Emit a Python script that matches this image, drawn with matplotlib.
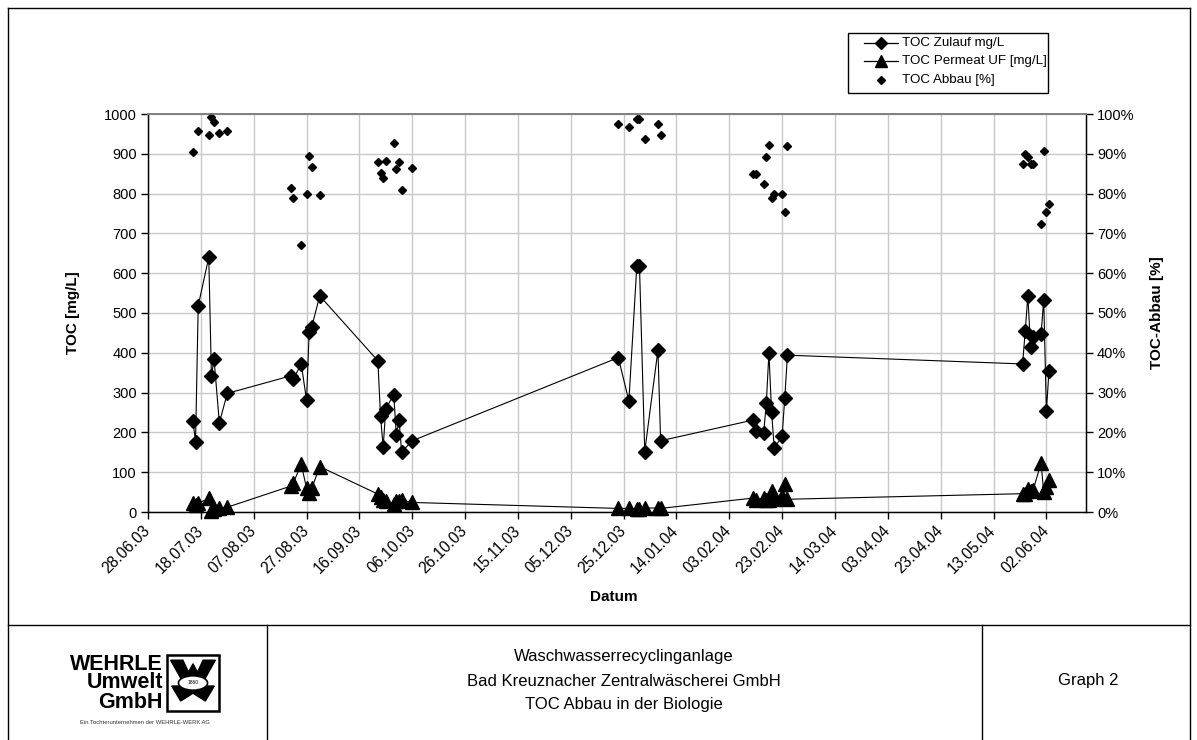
import matplotlib
matplotlib.use('Agg')
import matplotlib.pyplot as plt
import matplotlib.transforms as mtrans
import numpy as np
import pandas as pd
from matplotlib.lines import Line2D
from matplotlib.patches import Rectangle, Polygon, Ellipse

plt.rcParams['font.family'] = ['Liberation Sans', 'DejaVu Sans']

# ---------------- data ----------------
dates = ["15.07.03", "16.07.03", "17.07.03", "21.07.03", "22.07.03", "23.07.03", "25.07.03", "28.07.03",
         "21.08.03", "22.08.03", "25.08.03", "27.08.03", "28.08.03", "29.08.03", "01.09.03",
         "23.09.03", "24.09.03", "25.09.03", "26.09.03", "29.09.03", "30.09.03", "01.10.03", "02.10.03", "06.10.03",
         "23.12.03", "27.12.03", "30.12.03", "31.12.03", "02.01.04", "07.01.04", "08.01.04",
         "12.02.04", "13.02.04", "16.02.04", "17.02.04", "18.02.04", "19.02.04", "20.02.04", "23.02.04", "24.02.04", "25.02.04",
         "24.05.04", "25.05.04", "26.05.04", "27.05.04", "28.05.04", "31.05.04", "01.06.04", "02.06.04", "03.06.04"]

toc_zulauf = [229, 177, 518, 640, 342, 384, 224, 298,
              342, 334, 372, 281, 453, 466, 543,
              380, 241, 163, 260, 294, 193, 231, 151, 179,
              388, 279, 619, 619, 152, 407, 179,
              231, 204, 198, 273, 400, 252, 160, 191, 287, 394,
              372, 455, 543, 415, 440, 448, 533, 253, 355]

toc_permeat = [22, 18, 22, 34, 3, 7, 10, 12,
               65, 73, 120, 60, 47, 60, 114,
               45, 38, 30, 28, 21, 27, 28, 29, 24,
               9, 9, 8, 8, 10, 10, 9,
               35, 31, 35, 30, 31, 53, 32, 39, 71, 32,
               46, 45, 58, 52, 55, 124, 49, 62, 80]

toc_abbau = [90.4, np.nan, 95.8, 94.7, 99.3, 98.1, 95.3, 95.8,
             81.4, 78.9, 67.0, 79.9, 89.5, 86.8, 79.6,
             88.0, 85.3, 83.9, 88.3, 92.8, 86.1, 88.0, 80.9, 86.4,
             97.6, 96.8, 98.7, 98.7, 93.6, 97.6, 94.7,
             84.9, 84.9, 82.4, 89.2, 92.3, 79.0, 79.8, 79.8, 75.4, 92.0,
             87.5, 90.0, 89.3, 87.5, 87.5, 72.3, 90.8, 75.5, 77.4]

x_ticklabels = ["28.06.03", "18.07.03", "07.08.03", "27.08.03", "16.09.03", "06.10.03",
                "26.10.03", "15.11.03", "05.12.03", "25.12.03", "14.01.04", "03.02.04",
                "23.02.04", "14.03.04", "03.04.04", "23.04.04", "13.05.04", "02.06.04"]
x_min, x_max = "28.06.03", "17.06.04"
y_left_ticks = [0, 100, 200, 300, 400, 500, 600, 700, 800, 900, 1000]
y_right_ticks = [0, 10, 20, 30, 40, 50, 60, 70, 80, 90, 100]

labels = ["TOC Zulauf mg/L", "TOC Permeat UF [mg/L]", "TOC Abbau [%]"]
footer_lines = ["Waschwasserrecyclinganlage", "Bad Kreuznacher Zentralwäscherei GmbH",
                "TOC Abbau in der Biologie"]

# ---------------- figure ----------------
W, H = 1197, 740
fig = plt.figure(figsize=(W / 100, H / 100), dpi=100)
fig.patch.set_facecolor('white')


def fx(x):
    return x / W


def fy(y):
    return 1 - y / H


L, R, T, B = 148, 1086, 114, 512
ax = fig.add_axes([fx(L), fy(B), fx(R) - fx(L), fy(T) - fy(B)])

d = pd.to_datetime(dates, format="%d.%m.%y")
tick_d = pd.to_datetime(x_ticklabels, format="%d.%m.%y")

ax.plot(d, toc_zulauf, color='black', lw=0.8, marker='D', ms=7, mfc='black', mec='black',
        clip_on=False, zorder=4)
ax.plot(d, toc_permeat, color='black', lw=0.8, marker='^', ms=10, mfc='black', mec='black',
        clip_on=False, zorder=4)
ax.set_xlim(pd.to_datetime(x_min, format="%d.%m.%y"), pd.to_datetime(x_max, format="%d.%m.%y"))
ax.set_ylim(0, 1000)
ax.set_xticks(tick_d)
ax.set_xticklabels(x_ticklabels, rotation=45, ha='right', va='center',
                   rotation_mode='anchor', fontsize=11.2)
offset = mtrans.ScaledTranslation(-4 / 100, 0, fig.dpi_scale_trans)
for lbl in ax.get_xticklabels():
    lbl.set_transform(lbl.get_transform() + offset)
ax.set_yticks(y_left_ticks)
ax.set_yticklabels([str(v) for v in y_left_ticks], fontsize=10.5)
ax.grid(True, color='#c8c8c8', lw=1.0)
ax.set_axisbelow(True)
ax.tick_params(axis='both', direction='out', length=5, width=1, color='black', pad=3)
ax.tick_params(axis='x', pad=7)
for s in ['left', 'bottom', 'right']:
    ax.spines[s].set_color('black')
    ax.spines[s].set_linewidth(1.0)
ax.spines['top'].set_color('#808080')
ax.spines['top'].set_linewidth(1.2)

ax2 = ax.twinx()
ax2.plot(d, toc_abbau, ls='none', marker='D', ms=4, mfc='black', mec='black', clip_on=False)
ax2.set_ylim(0, 100)
ax2.set_yticks(y_right_ticks)
ax2.set_yticklabels([f"{v}%" for v in y_right_ticks], fontsize=10.5)
ax2.tick_params(axis='y', direction='out', length=5, width=1, color='black', pad=3)
ax2.spines['right'].set_color('black')
ax2.spines['top'].set_color('#808080')
ax2.spines['top'].set_linewidth(1.2)

# axis titles
fig.text(fx(614), fy(597), "Datum", ha='center', va='center', fontsize=11, fontweight='bold')
fig.text(fx(73), fy(313), "TOC [mg/L]", ha='center', va='center', rotation=90,
         fontsize=11, fontweight='bold')
fig.text(fx(1157), fy(313), "TOC-Abbau [%]", ha='center', va='center', rotation=90,
         fontsize=11, fontweight='bold')


# frame lines
def hline(y, x0, x1, lw=1.0, color='black'):
    fig.add_artist(Line2D([fx(x0), fx(x1)], [fy(y), fy(y)], transform=fig.transFigure,
                          color=color, lw=lw))


def vline(x, y0, y1, lw=1.0, color='black'):
    fig.add_artist(Line2D([fx(x), fx(x)], [fy(y0), fy(y1)], transform=fig.transFigure,
                          color=color, lw=lw))


# legend (drawn manually for exact placement)
fig.add_artist(Rectangle((fx(848), fy(93)), fx(1048) - fx(848), fy(33) - fy(93),
                         transform=fig.transFigure, fill=True, fc='white', ec='black', lw=1.0))
leg_rows = [43, 61, 80]
leg_markers = [('D', 6.5, True), ('^', 9, True), ('D', 4, False)]
for yy, (mk, ms, with_line), lab in zip(leg_rows, leg_markers, labels):
    if with_line:
        fig.add_artist(Line2D([fx(864), fx(898)], [fy(yy), fy(yy)], transform=fig.transFigure,
                              color='black', lw=0.9))
    fig.add_artist(Line2D([fx(881)], [fy(yy)], transform=fig.transFigure, ls='none',
                          marker=mk, ms=ms, color='black'))
    fig.text(fx(902), fy(yy), lab, ha='left', va='center', fontsize=9.6)

hline(8, 8, 1190)
hline(625, 8, 1190)
vline(8, 8, 740)
vline(1190, 8, 740)
vline(267, 625, 740)
vline(982, 625, 740)

# footer texts
for i, t in enumerate(footer_lines):
    fig.text(fx(624), fy(657 + 24 * i), t, ha='center', va='center', fontsize=12)
fig.text(fx(1088), fy(681), "Graph 2", ha='center', va='center', fontsize=12)

# logo
for i, t in enumerate(["WEHRLE", "Umwelt", "GmbH"]):
    fig.text(fx(163), fy(664 + 19 * i), t, ha='right', va='center', fontsize=15.5,
             fontweight='heavy')
fig.text(fx(145), fy(723), "Ein Tochterunternehmen der WEHRLE-WERK AG", ha='center',
         va='center', fontsize=4.2, color='#333333')
lax = fig.add_axes([fx(165), fy(713), fx(221) - fx(165), fy(653) - fy(713)])
lax.set_xlim(0, 1)
lax.set_ylim(0, 1)
lax.axis('off')
lax.add_patch(Rectangle((0.03, 0.03), 0.94, 0.94, fill=False, ec='black', lw=1.8))
lax.add_patch(Polygon([(0.1, 0.88), (0.32, 0.88), (0.42, 0.68), (0.5, 0.82), (0.58, 0.68),
                       (0.68, 0.88), (0.9, 0.88), (0.7, 0.55), (0.3, 0.55)],
                      closed=True, fc='black', ec='black'))
lax.add_patch(Polygon([(0.12, 0.45), (0.88, 0.45), (0.72, 0.2), (0.5, 0.33), (0.28, 0.2)],
                      closed=True, fc='black', ec='black'))
lax.add_patch(Ellipse((0.5, 0.5), 0.52, 0.24, fc='white', ec='black', lw=1.2))
lax.text(0.5, 0.5, "1860", ha='center', va='center', fontsize=3.5)

fig.savefig("out.png", dpi=100)
